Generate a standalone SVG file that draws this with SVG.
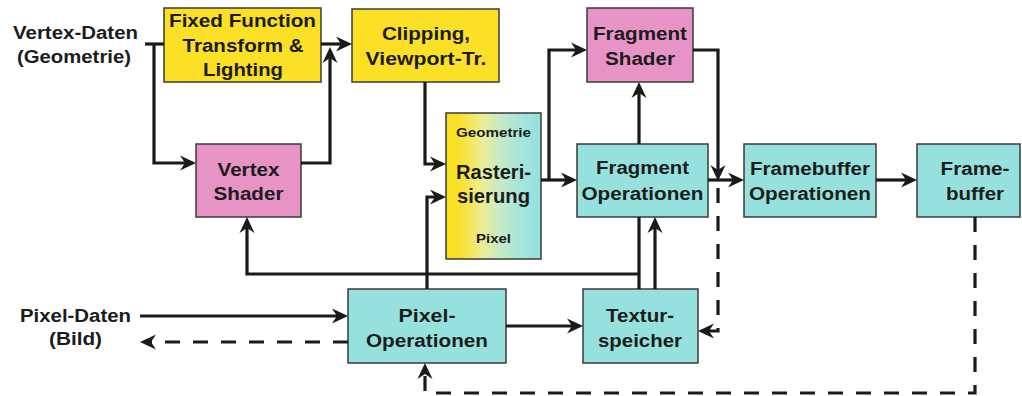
<svg xmlns="http://www.w3.org/2000/svg" width="1022" height="396" viewBox="0 0 1022 396">
  <style>
    .box { stroke: #3a3a3a; stroke-width: 1.5; }
    .fixed { fill: #fbe025; }
    .shader { fill: #e893c6; }
    .op { fill: #96e1dd; }
    .t { font-family: "Liberation Sans", Arial, sans-serif; font-weight: bold; font-size: 18px; fill: #1c1c1c; text-anchor: middle; }
    .ts { font-size: 12.5px; }
    .tr { font-size: 20px; }
    .lbl { text-anchor: middle; }
    .wire { fill: none; stroke: #1a1a1a; stroke-width: 3.2; }
    .dash { stroke-dasharray: 15 13; }
  </style>
  <defs>
    <!-- stealth-style arrowhead; the tip sits 10 units past the path end -->
    <marker id="arrow" viewBox="-7 -8 18 16" markerWidth="18" markerHeight="16" refX="0" refY="0" markerUnits="userSpaceOnUse" orient="auto">
      <path d="M10,0 L-6,-7.5 L-1,0 L-6,7.5 Z" fill="#1a1a1a"/>
    </marker>
    <linearGradient id="rasterFill" x1="0" y1="0" x2="1" y2="0">
      <stop offset="0" stop-color="#f9df1f"/>
      <stop offset="0.14" stop-color="#f9e02a"/>
      <stop offset="0.38" stop-color="#eeec95"/>
      <stop offset="0.55" stop-color="#c9ebc2"/>
      <stop offset="0.75" stop-color="#a9e6db"/>
      <stop offset="1" stop-color="#94e0dd"/>
    </linearGradient>
  </defs>

  <!-- input labels -->
  <g id="vertex-data">
    <text class="t" x="75.5" y="39" textLength="125" lengthAdjust="spacingAndGlyphs">Vertex-Daten</text>
    <text class="t" x="74" y="63" textLength="114" lengthAdjust="spacingAndGlyphs">(Geometrie)</text>
  </g>
  <g id="pixel-data">
    <text class="t" x="75.5" y="322" textLength="111" lengthAdjust="spacingAndGlyphs">Pixel-Daten</text>
    <text class="t" x="75.5" y="345" textLength="53" lengthAdjust="spacingAndGlyphs">(Bild)</text>
  </g>

  <!-- pipeline stages -->
  <g id="fixed-function">
    <rect class="box fixed" x="164" y="8" width="157" height="74"/>
    <text class="t" x="242.5" y="27" textLength="147" lengthAdjust="spacingAndGlyphs">Fixed Function</text>
    <text class="t" x="243" y="52" textLength="121" lengthAdjust="spacingAndGlyphs">Transform &amp;</text>
    <text class="t" x="243" y="76" textLength="80" lengthAdjust="spacingAndGlyphs">Lighting</text>
  </g>
  <g id="clipping">
    <rect class="box fixed" x="352" y="9" width="147" height="73"/>
    <text class="t" x="426" y="40" textLength="88" lengthAdjust="spacingAndGlyphs">Clipping,</text>
    <text class="t" x="426" y="65" textLength="121" lengthAdjust="spacingAndGlyphs">Viewport-Tr.</text>
  </g>
  <g id="fragment-shader">
    <rect class="box shader" x="587" y="8" width="106" height="74"/>
    <text class="t" x="640" y="40" textLength="94" lengthAdjust="spacingAndGlyphs">Fragment</text>
    <text class="t" x="640" y="65" textLength="70" lengthAdjust="spacingAndGlyphs">Shader</text>
  </g>
  <g id="vertex-shader">
    <rect class="box shader" x="196" y="144" width="105" height="73"/>
    <text class="t" x="248.5" y="176" textLength="62" lengthAdjust="spacingAndGlyphs">Vertex</text>
    <text class="t" x="248.5" y="200" textLength="70" lengthAdjust="spacingAndGlyphs">Shader</text>
  </g>
  <g id="rasterization">
    <rect class="box" x="446" y="113" width="95" height="146" fill="url(#rasterFill)"/>
    <text class="t ts" x="493.5" y="137" textLength="75" lengthAdjust="spacingAndGlyphs">Geometrie</text>
    <text class="t tr" x="493.5" y="179" textLength="75" lengthAdjust="spacingAndGlyphs">Rasteri-</text>
    <text class="t tr" x="493.5" y="203" textLength="73" lengthAdjust="spacingAndGlyphs">sierung</text>
    <text class="t ts" x="493.5" y="243" textLength="35" lengthAdjust="spacingAndGlyphs">Pixel</text>
  </g>
  <g id="fragment-operations">
    <rect class="box op" x="577" y="144" width="131" height="73"/>
    <text class="t" x="642.5" y="174" textLength="93" lengthAdjust="spacingAndGlyphs">Fragment</text>
    <text class="t" x="642.5" y="200" textLength="122" lengthAdjust="spacingAndGlyphs">Operationen</text>
  </g>
  <g id="framebuffer-operations">
    <rect class="box op" x="744" y="144" width="132" height="73"/>
    <text class="t" x="810" y="175" textLength="120" lengthAdjust="spacingAndGlyphs">Framebuffer</text>
    <text class="t" x="810" y="200" textLength="122" lengthAdjust="spacingAndGlyphs">Operationen</text>
  </g>
  <g id="framebuffer">
    <rect class="box op" x="917" y="144" width="103" height="73"/>
    <text class="t" x="975" y="175" textLength="69" lengthAdjust="spacingAndGlyphs">Frame-</text>
    <text class="t" x="975" y="200" textLength="58" lengthAdjust="spacingAndGlyphs">buffer</text>
  </g>
  <g id="pixel-operations">
    <rect class="box op" x="348" y="289" width="158" height="74"/>
    <text class="t" x="427" y="322" textLength="57" lengthAdjust="spacingAndGlyphs">Pixel-</text>
    <text class="t" x="427" y="347" textLength="122" lengthAdjust="spacingAndGlyphs">Operationen</text>
  </g>
  <g id="texture-memory">
    <rect class="box op" x="583" y="289" width="115" height="74"/>
    <text class="t" x="640" y="322" textLength="68" lengthAdjust="spacingAndGlyphs">Textur-</text>
    <text class="t" x="640" y="347" textLength="84" lengthAdjust="spacingAndGlyphs">speicher</text>
  </g>

  <!-- connectors -->
  <g id="connectors">
    <path class="wire" d="M145,44 H164"/>
    <path class="wire" d="M154,44 V163 H186" marker-end="url(#arrow)"/>
    <path class="wire" d="M321,44 H342" marker-end="url(#arrow)"/>
    <path class="wire" d="M301,163 H330 V57" marker-end="url(#arrow)"/>
    <path class="wire" d="M425,82 V164 H436" marker-end="url(#arrow)"/>
    <path class="wire" d="M427,289 V197 H436" marker-end="url(#arrow)"/>
    <path class="wire" d="M541,180 H567" marker-end="url(#arrow)"/>
    <path class="wire" d="M549,180 V50 H577" marker-end="url(#arrow)"/>
    <path class="wire" d="M639,144 V92" marker-end="url(#arrow)"/>
    <path class="wire" d="M693,50 H718 V171" marker-end="url(#arrow)"/>
    <path class="wire" d="M708,180 H734" marker-end="url(#arrow)"/>
    <path class="wire" d="M876,180 H907" marker-end="url(#arrow)"/>
    <path class="wire" d="M639,217 V289"/>
    <path class="wire" d="M639,274 H247 V227" marker-end="url(#arrow)"/>
    <path class="wire" d="M655,289 V227" marker-end="url(#arrow)"/>
    <path class="wire" d="M140,316 H338" marker-end="url(#arrow)"/>
    <path class="wire" d="M506,326 H573" marker-end="url(#arrow)"/>
    <path class="wire dash" d="M348,342 H150" marker-end="url(#arrow)"/>
    <path class="wire dash" d="M718,188 V331 H708" marker-end="url(#arrow)"/>
    <path class="wire dash" d="M975,217 V393 H425 V373" marker-end="url(#arrow)"/>
  </g>
</svg>
